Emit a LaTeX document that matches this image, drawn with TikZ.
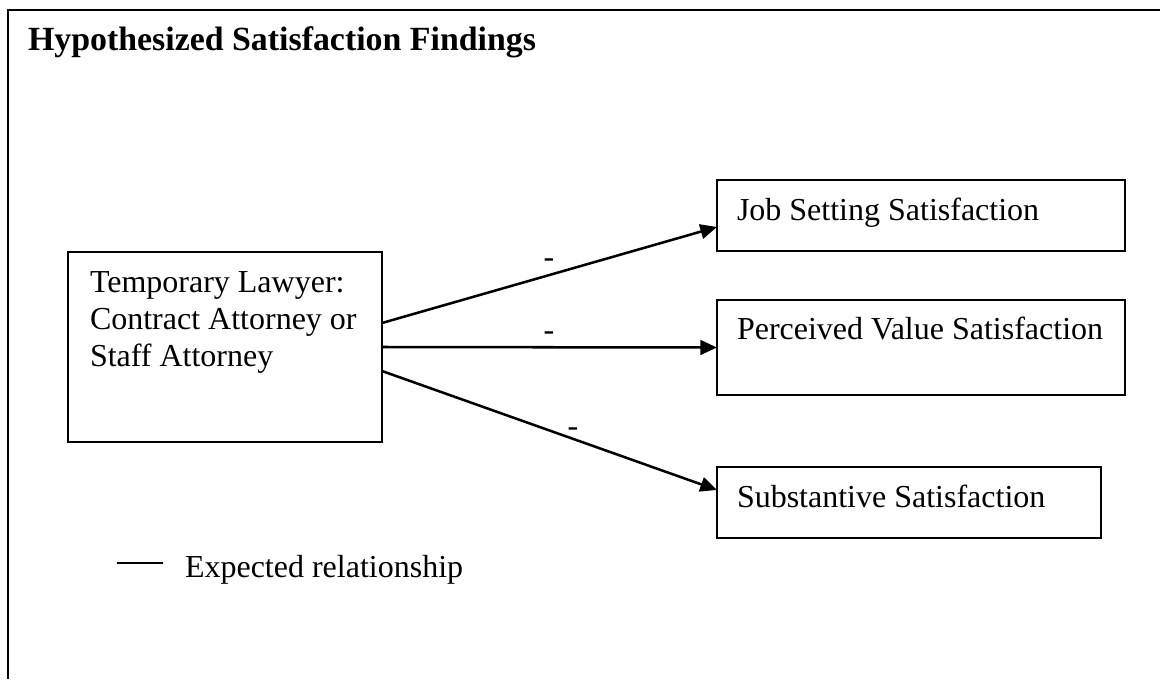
\documentclass[tikz,border=0pt]{standalone}
\usepackage{fontspec}
\setmainfont{Liberation Serif}
\usetikzlibrary{arrows.meta}
\begin{document}
\begin{tikzpicture}[x=0.75pt,y=-0.75pt,
  box/.style={draw,line width=1.75pt,inner sep=0pt,outer sep=0pt},
  txt/.style={inner sep=0pt,outer sep=0pt,anchor=base west,font=\fontsize{24}{28}\selectfont},
  sign/.style={inner sep=0pt,outer sep=0pt,anchor=base,font=\fontsize{24}{28}\selectfont},
  conn/.style={line width=1.9pt,-{Triangle[length=12.5pt,width=11pt]}},
  frameline/.style={line width=1.7pt}
]
\useasboundingbox (0,0) rectangle (1160,679);
% outer frame (left and top sides only)
\coordinate (fbl) at (8,679);
\coordinate (ftl) at (8,10);
\coordinate (ftr) at (1160,10);
\draw[frameline] (fbl) -- (ftl) -- (ftr);
% title
\node[txt,font=\fontsize{25.4}{30}\selectfont\bfseries] (title) at (28,50) {Hypothesized Satisfaction Findings};
% boxes
\node[box,minimum width=235.5pt,minimum height=142.5pt] (L) at (225,347) {};
\node[box,minimum width=306pt,minimum height=53.25pt] (B1) at (921,215.5) {};
\node[box,minimum width=306pt,minimum height=71.25pt] (B2) at (921,347.5) {};
\node[box,minimum width=288pt,minimum height=53.25pt] (B3) at (909,502.5) {};
% box texts
\node[txt] (l1) at (90,292) {Temporary Lawyer:};
\node[txt] (l2) at (90,329) {Contract Attorney or};
\node[txt] (l3) at (90,366) {Staff Attorney};
\node[txt] (t1) at (737,220) {Job Setting Satisfaction};
\node[txt] (t2) at (737,339) {Perceived Value Satisfaction};
\node[txt] (t3) at (737,507) {Substantive Satisfaction};
% connectors
\draw[conn] ([yshift=18pt]L.east) -- ([yshift=-8.6pt]B1.west);
\draw[conn] (L.east) -- (B2.west);
\draw[conn] ([yshift=-18pt]L.east) -- ([yshift=9.4pt]B3.west);
% signs
\node[sign] (s1) at (549,267) {-};
\node[sign] (s2) at (549,340) {-};
\node[sign] (s3) at (573,436) {-};
% legend
\coordinate (lg1) at (117,563);
\coordinate (lg2) at (163,563);
\draw[line width=1.5pt] (lg1) -- (lg2);
\node[txt] (legend) at (185,577) {Expected relationship};
\end{tikzpicture}
\end{document}
